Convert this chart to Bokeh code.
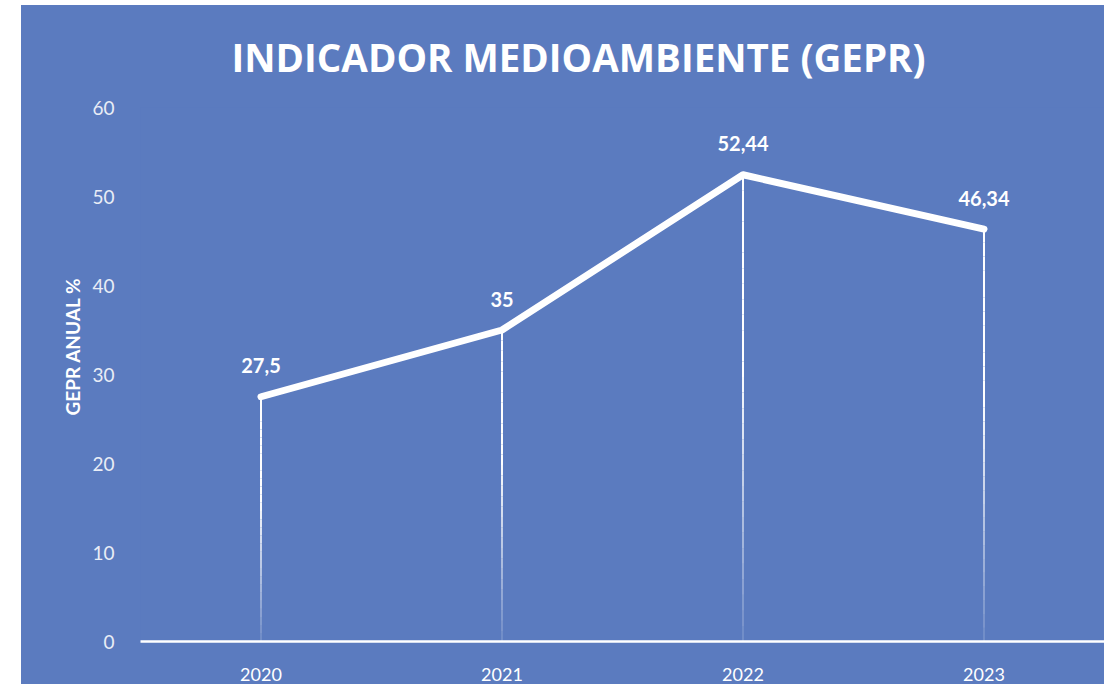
import math
from bokeh.plotting import figure
from bokeh.models import FactorRange, Range1d, FixedTicker, ColumnDataSource, Title, Spacer
from bokeh.layouts import row, column
from bokeh.core.properties import value
from bokeh.embed import file_html
from bokeh.resources import INLINE

# ---- data ----
years = ["2020", "2021", "2022", "2023"]
gepr = [27.5, 35, 52.44, 46.34]
y_ticks = [0, 10, 20, 30, 40, 50, 60]
title_text = "INDICADOR MEDIOAMBIENTE (GEPR)"
y_label = "GEPR ANUAL %"

BG = "#5B7BBF"
FONT = "Lato"

p = figure(
    x_range=FactorRange(*years, range_padding=0),
    y_range=Range1d(0, 60),
    width=1083, height=679,
    output_backend="svg", toolbar_location=None,
    min_border_left=119, min_border_right=0, min_border_top=102, min_border_bottom=43,
    background_fill_color=BG, border_fill_color=BG, outline_line_color=None,
)
p.styles = {"background-color": BG}

t = Title(text=title_text, align="left", vertical_align="top", text_font="Open Sans",
          text_font_size="38.5px", text_font_style="bold", text_color="white",
          standoff=46, offset=91)
p.add_layout(t, "above")

yt = Title(text=y_label, align="left", text_font=FONT, text_font_size="19px",
           text_font_style="bold", text_color="white", standoff=12, offset=226)
p.add_layout(yt, "left")

# drop lines with fading gradient (pieces with varying alpha)
N = 30
x0, ya, yb, al = [], [], [], []
for yr, v in zip(years, gepr):
    for k in range(N):
        f0 = k / N
        f1 = (k + 1) / N
        x0.append(yr)
        ya.append(v * f0)
        yb.append(v * f1)
        fm = (f0 + f1) / 2
        al.append(min(1.0, 0.12 + 1.5 * fm))
drop = ColumnDataSource(dict(x=x0, y0=ya, y1=yb, a=al))
p.segment(x0="x", y0="y0", x1="x", y1="y1", source=drop, line_color="white",
          line_width=2, line_alpha="a")

src = ColumnDataSource(dict(x=years, y=gepr, lab=[str(v).replace(".", ",") for v in gepr]))
p.line(x="x", y="y", source=src, line_color="white", line_width=7,
       line_cap="round", line_join="round")
p.text(x="x", y="y", text="lab", source=src, text_font=value(FONT),
       text_font_size="20px", text_font_style="bold", text_color="white",
       text_align="center", text_baseline="middle", y_offset=-31)

p.xgrid.visible = False
p.ygrid.visible = False

ya_ = p.yaxis[0]
ya_.ticker = FixedTicker(ticks=y_ticks)
ya_.axis_line_color = None
ya_.major_tick_line_color = None
ya_.minor_tick_line_color = None
ya_.major_label_text_color = "#E9EDF6"
ya_.major_label_text_font = FONT
ya_.major_label_text_font_size = "19px"
ya_.major_label_standoff = 20

xa = p.xaxis[0]
xa.axis_line_color = "white"
xa.axis_line_width = 2.5
xa.major_tick_line_color = None
xa.minor_tick_line_color = None
xa.major_label_text_color = "white"
xa.major_label_text_font = FONT
xa.major_label_text_font_size = "18px"
xa.major_label_standoff = 20

layout = column(Spacer(width=1104, height=5), row(Spacer(width=21, height=679), p))
open("out.html", "w").write(file_html(layout, INLINE))
